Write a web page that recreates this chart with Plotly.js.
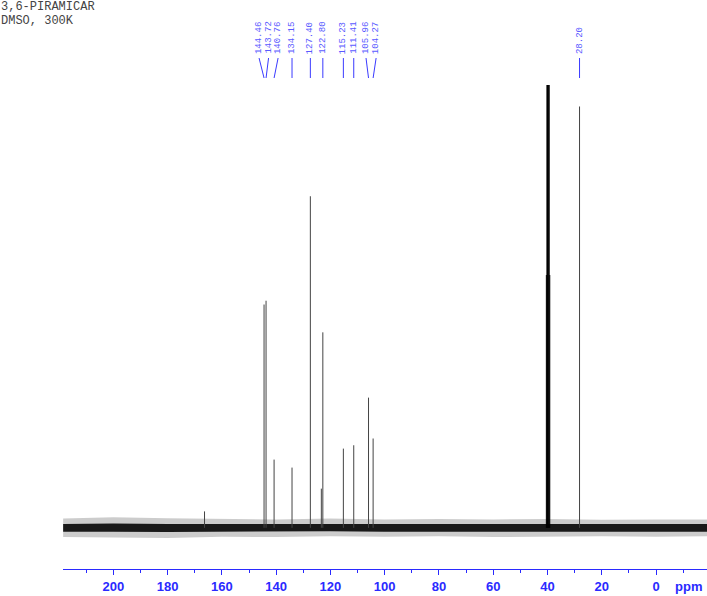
<!DOCTYPE html>
<html>
<head>
<meta charset="utf-8">
<script src="https://cdn.plot.ly/plotly-3.0.1.min.js"></script>
<style>
  body { margin: 0; background: #fff; }
  #myDiv { width: 707px; height: 596px; }
</style>
</head>
<body>
<div id="myDiv"></div>
<script>
// 13C peaks (ppm) and heights (28.20 peak = 100)
var peakPpm = [166.4, 144.46, 143.72, 140.76, 134.15, 127.40, 123.35, 122.80, 115.23, 111.41, 105.96, 104.27, 28.20];
var peakHeight = [3.9, 53.0, 53.9, 16.2, 14.3, 78.7, 9.3, 46.4, 18.8, 19.6, 30.9, 21.2, 100];

// DMSO-d6 septet (clipped at the top of the plot)
var solventPpm = [40.43, 40.22, 40.01, 39.80, 39.59, 39.38, 39.17];
var solventHeight = [60, 190, 380, 440, 380, 190, 60];

// labelled peaks
var labelPpm = [144.46, 143.72, 140.76, 134.15, 127.40, 122.80, 115.23, 111.41, 105.96, 104.27, 28.20];
var labelText = ['144.46', '143.72', '140.76', '134.15', '127.40', '122.80', '115.23', '111.41', '105.96', '104.27', '28.20'];
var labelShift = [-5, 2.5, 4, 0, 0, 0, 0, 0, -2.5, 3, 0];   // px, label offset from the peak

// baseline noise envelope
var noiseX = [218.5, 200, 180, 160, 140, 120, 100, 80, 60, 40, 20, 0, -18.8];
var coreHi = [0.9, 1.0, 0.9, 0.9, 0.8, 0.9, 0.8, 0.9, 0.8, 0.9, 0.8, 0.9, 0.9];
var coreLo = [-0.9, -0.9, -1.0, -0.9, -0.9, -0.8, -0.9, -0.9, -1.0, -0.9, -0.9, -0.9, -0.9];
var fringeHi = [2.2, 2.5, 2.3, 2.1, 2.0, 2.2, 2.0, 2.1, 2.0, 2.1, 1.9, 2.0, 2.0];
var fringeLo = [-2.2, -2.3, -2.4, -2.1, -2.2, -2.0, -2.1, -2.0, -2.2, -2.1, -2.0, -2.1, -2.0];

function band(hi, lo, color) {
   return {
      x: noiseX.concat(noiseX.slice().reverse()),
      y: hi.concat(lo.slice().reverse()),
      type: 'scatter', mode: 'lines', fill: 'toself',
      fillcolor: color, line: {width: 0},
      hoverinfo: 'skip'
   };
}

function sticks(xs, hs, color, w) {
   var x = [], y = [];
   for (var i = 0; i < xs.length; i++) {
      x.push(xs[i], xs[i], null);
      y.push(0, hs[i], null);
   }
   return {x: x, y: y, type: 'scatter', mode: 'lines', line: {color: color, width: w}};
}

var data = [
   band(fringeHi, fringeLo, 'rgba(0,0,0,0.2)'),
   band(coreHi, coreLo, 'rgba(0,0,0,0.88)'),
   sticks(peakPpm, peakHeight, '#444', 1),
   sticks(solventPpm, solventHeight, '#000', 1)
];

var blue = '#2a2aff';
var plotTop = 85, plotBottom = 569.5, plotH = plotBottom - plotTop;
function py(pix) { return (plotBottom - pix) / plotH; }

var annotations = [
   {xref: 'paper', yref: 'paper', x: -63 / 644, y: py(6.5), xanchor: 'left', yanchor: 'middle',
    text: '3,6-PIRAMICAR', showarrow: false, borderpad: 0,
    font: {family: 'Liberation Mono, monospace', size: 12, color: '#444'}},
   {xref: 'paper', yref: 'paper', x: -63 / 644, y: py(20.5), xanchor: 'left', yanchor: 'middle',
    text: 'DMSO, 300K', showarrow: false, borderpad: 0,
    font: {family: 'Liberation Mono, monospace', size: 12, color: '#444'}},
   {xref: 'paper', yref: 'paper', x: 1, xshift: -3, y: py(587), xanchor: 'right', yanchor: 'middle',
    text: 'ppm', showarrow: false,
    font: {family: 'Liberation Sans, Arial, sans-serif', size: 13, color: blue, weight: 'bold'}}
];
var shapes = [];
for (var i = 0; i < labelPpm.length; i++) {
   annotations.push({
      xref: 'x', yref: 'paper', x: labelPpm[i], xshift: labelShift[i],
      y: py(56), xanchor: 'center', yanchor: 'bottom',
      text: labelText[i], textangle: -90, showarrow: false,
      font: {family: 'Liberation Mono, monospace', size: 9, color: '#5a5aff'}
   });
   shapes.push({
      type: 'line', xref: 'x', yref: 'paper', xsizemode: 'pixel', xanchor: labelPpm[i],
      x0: labelShift[i], x1: 0, y0: py(58), y1: py(78),
      line: {color: '#3a3aff', width: 1}
   });
}

var layout = {
   width: 707, height: 596,
   margin: {l: 63, r: 0, t: plotTop, b: 596 - plotBottom},
   paper_bgcolor: '#fff', plot_bgcolor: '#fff',
   showlegend: false,
   xaxis: {
      range: [218.55, -18.77],
      tickmode: 'array',
      tickvals: [200, 180, 160, 140, 120, 100, 80, 60, 40, 20, 0],
      ticks: 'outside', ticklen: 5, tickcolor: blue, tickwidth: 1,
      minor: {dtick: 10, ticks: 'outside', ticklen: 3, tickcolor: blue},
      showline: true, linecolor: blue, linewidth: 1,
      showgrid: false, zeroline: false,
      tickfont: {family: 'Liberation Sans, Arial, sans-serif', size: 13, color: blue, weight: 'bold'}
   },
   yaxis: {range: [-9.77, 105.1], visible: false, showgrid: false, zeroline: false},
   annotations: annotations,
   shapes: shapes
};

Plotly.newPlot('myDiv', data, layout, {staticPlot: true});
</script>
</body>
</html>
